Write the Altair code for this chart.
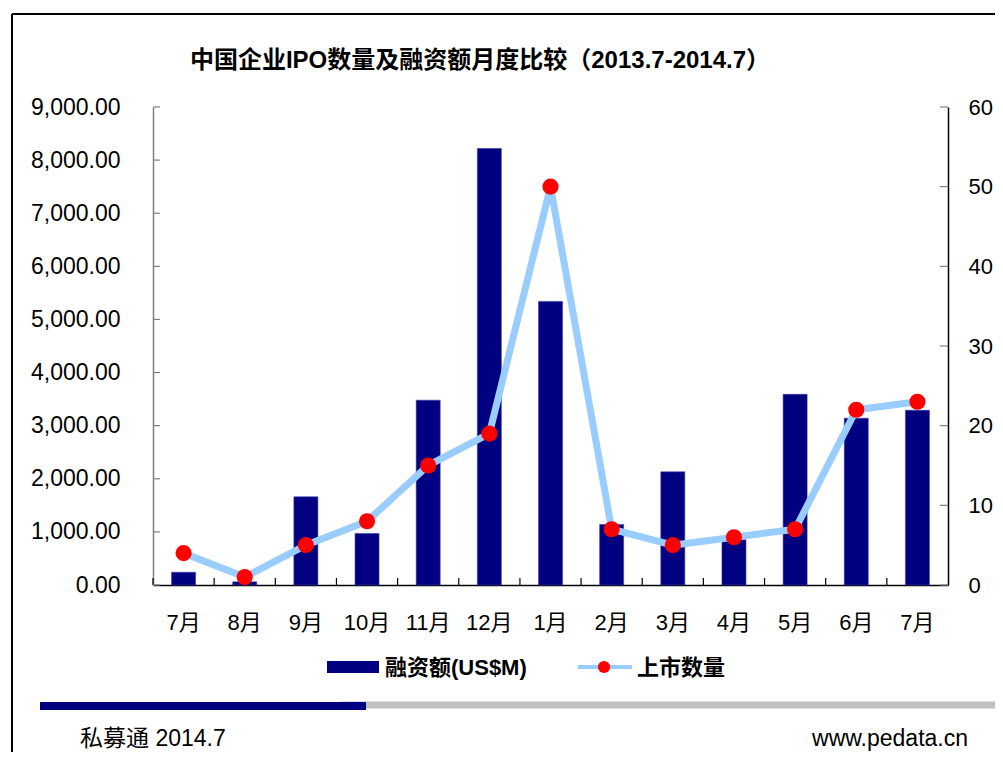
import json
import altair as alt
import pandas as pd

# ---- data ----
month_labels = ["7月", "8月", "9月", "10月", "11月", "12月", "1月", "2月", "3月", "4月", "5月", "6月", "7月"]
amount = [240, 60, 1660, 970, 3480, 8220, 5340, 1140, 2130, 850, 3590, 3140, 3290]   # 融资额 (US$M)
count = [4, 1, 5, 8, 15, 19, 50, 7, 5, 6, 7, 22, 23]                                 # 上市数量
left_ticks = [0, 1000, 2000, 3000, 4000, 5000, 6000, 7000, 8000, 9000]
right_ticks = [0, 10, 20, 30, 40, 50, 60]

title_text = "中国企业IPO数量及融资额月度比较（2013.7-2014.7）"
legend_bar = "融资额(US$M)"
legend_line = "上市数量"
footer_left = "私募通 2014.7"
footer_right = "www.pedata.cn"

W, H = 795, 478
FONT = "Liberation Sans, Arial, Noto Sans CJK SC"
NAVY = "#000080"
LINEBLUE = "#99CCFF"

df = pd.DataFrame({"i": list(range(len(month_labels))), "amount": amount, "count": count})
lt = pd.DataFrame({"amount": left_ticks})
rt = pd.DataFrame({"count": right_ticks})
one = pd.DataFrame({"k": [0]})

label_expr = json.dumps(month_labels, ensure_ascii=False) + "[datum.value]"

x_enc = alt.X(
    "i:O",
    scale=alt.Scale(paddingInner=0, paddingOuter=0),
    axis=alt.Axis(
        title=None, labelExpr=label_expr, labelAngle=0, labelFont=FONT, labelFontSize=22,
        labelColor="black", labelPadding=27, ticks=False, tickSize=0,
        domainColor="black", domainWidth=1.5, grid=False,
    ),
)

y_left = alt.Y(
    "amount:Q",
    scale=alt.Scale(domain=[0, 9000], nice=False, zero=True),
    axis=alt.Axis(
        title=None, values=left_ticks, format=",.2f", labelFont=FONT, labelFontSize=23,
        labelColor="black", labelPadding=33, ticks=False, tickSize=0,
        domainColor="#808080", domainWidth=1.5, grid=False, orient="left",
    ),
)

y_right = alt.Y(
    "count:Q",
    scale=alt.Scale(domain=[0, 60], nice=False, zero=True),
    axis=alt.Axis(
        title=None, values=right_ticks, format="d", labelFont=FONT, labelFontSize=22,
        labelColor="black", labelPadding=20, ticks=False, tickSize=0,
        domainColor="black", domainWidth=1.5, grid=False, orient="right",
    ),
)

bars = alt.Chart(df).mark_bar(size=24, color=NAVY, stroke="#3a3aa8", strokeWidth=0.6).encode(x=x_enc, y=y_left)

# inward ticks on left axis
lticks = alt.Chart(lt).mark_rule(color="#808080", strokeWidth=1.2).encode(
    y=y_left, x=alt.value(0), x2=alt.value(7)
)
# inward ticks between categories on x axis
xticks = alt.Chart(df).mark_rule(color="black", strokeWidth=1.2).encode(
    x=alt.X("i:O", bandPosition=0), y=alt.value(H - 7), y2=alt.value(H)
)

left_layer = alt.layer(bars, xticks, lticks)

line = alt.Chart(df).mark_line(color=LINEBLUE, strokeWidth=7).encode(x=x_enc, y=y_right)
pts = alt.Chart(df).mark_point(filled=True, color="red", size=260, opacity=1).encode(x=x_enc, y=y_right)
rticks = alt.Chart(rt).mark_rule(color="#808080", strokeWidth=1.2).encode(
    y=y_right, x=alt.value(W - 8), x2=alt.value(W)
)
right_layer = alt.layer(line, pts, rticks)

# decorations (relative to plot origin at page 153,107)
base = alt.Chart(one)
frame_top = base.mark_rule(color="black", strokeWidth=2).encode(
    x=alt.value(-141), x2=alt.value(850), y=alt.value(-93)
)
frame_left = base.mark_rule(color="black", strokeWidth=2).encode(
    x=alt.value(-141), y=alt.value(-93), y2=alt.value(660)
)
title = base.mark_text(text=title_text, font=FONT, fontSize=24, fontWeight="bold",
                       align="center", baseline="middle", color="black").encode(
    x=alt.value(327), y=alt.value(-46)
)
leg_rect = base.mark_rect(color=NAVY).encode(
    x=alt.value(174), x2=alt.value(226), y=alt.value(554), y2=alt.value(566)
)
leg_t1 = base.mark_text(text=legend_bar, font=FONT, fontSize=22, fontWeight="bold",
                        align="left", baseline="middle", color="black").encode(
    x=alt.value(232), y=alt.value(561)
)
leg_line = base.mark_rule(color=LINEBLUE, strokeWidth=4).encode(
    x=alt.value(425), x2=alt.value(479), y=alt.value(560)
)
leg_dot = base.mark_point(filled=True, color="red", size=150, opacity=1).encode(
    x=alt.value(451), y=alt.value(560)
)
leg_t2 = base.mark_text(text=legend_line, font=FONT, fontSize=22, fontWeight="bold",
                        align="left", baseline="middle", color="black").encode(
    x=alt.value(484), y=alt.value(561)
)
bar_gray = base.mark_rule(color="#C0C0C0", strokeWidth=7).encode(
    x=alt.value(186), x2=alt.value(850), y=alt.value(598)
)
bar_navy = base.mark_rule(color=NAVY, strokeWidth=8).encode(
    x=alt.value(-113), x2=alt.value(213), y=alt.value(599)
)
foot_l = base.mark_text(text=footer_left, font=FONT, fontSize=23, align="left",
                        baseline="middle", color="black").encode(
    x=alt.value(-73), y=alt.value(632)
)
foot_r = base.mark_text(text=footer_right, font=FONT, fontSize=23, align="right",
                        baseline="middle", color="black").encode(
    x=alt.value(815), y=alt.value(632)
)

chart = alt.layer(
    left_layer, right_layer,
    frame_top, frame_left, title, leg_rect, leg_t1, leg_line, leg_dot, leg_t2,
    bar_gray, bar_navy, foot_l, foot_r,
).resolve_scale(y="independent").properties(
    width=W, height=H,
    autosize=alt.AutoSizeParams(type="none"),
    padding={"left": 145, "top": 99, "right": 47, "bottom": 167},
    background="white",
).configure_view(stroke=None)

chart.save("out.html", embed_options={"renderer": "svg", "actions": False})
